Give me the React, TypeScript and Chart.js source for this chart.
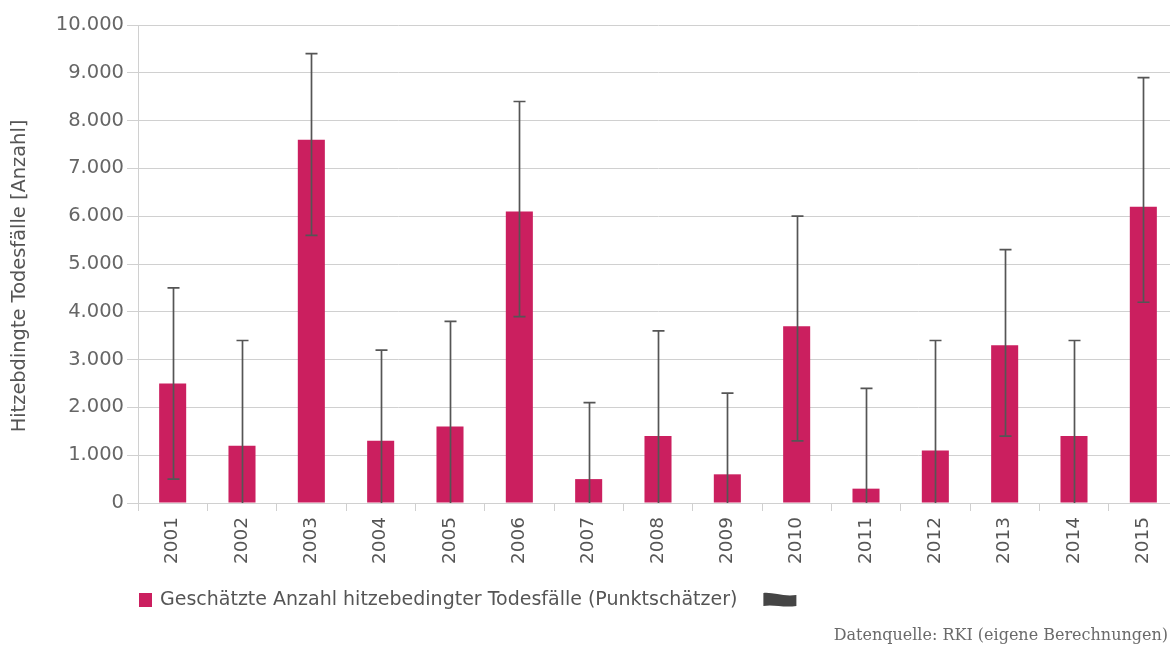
import React, { useEffect, useRef } from "react";
import { Chart, registerables } from "chart.js";

Chart.register(...registerables);

const years = ["2001", "2002", "2003", "2004", "2005", "2006", "2007", "2008", "2009", "2010", "2011", "2012", "2013", "2014", "2015"];
const estimates = [2500, 1200, 7600, 1300, 1600, 6100, 500, 1400, 600, 3700, 300, 1100, 3300, 1400, 6200];
const lowerBounds = [500, 0, 5600, 0, 0, 3900, 0, 0, 0, 1300, 0, 0, 1400, 0, 4200];
const upperBounds = [4500, 3400, 9400, 3200, 3800, 8400, 2100, 3600, 2300, 6000, 2400, 3400, 5300, 3400, 8900];
const yMin = 0;
const yMax = 10000;
const yStep = 1000;
const legendLabel = "Geschätzte Anzahl hitzebedingter Todesfälle (Punktschätzer)";
const yTitle = "Hitzebdingte Todesfälle [Anzahl]";
const sourceNote = "Datenquelle: RKI (eigene Berechnungen)";

const BAR_COLOR = "#cb1f5f";
const ERR_COLOR = "#555555";
const GRID_COLOR = "#d0d0d0";

function formatDE(v: number): string {
  const s = Math.round(v).toString();
  return s.replace(/\B(?=(\d{3})+(?!\d))/g, ".");
}

const errorBarPlugin = {
  id: "errorBars",
  afterDatasetsDraw(chart: any) {
    const ctx = chart.ctx;
    const meta = chart.getDatasetMeta(0);
    const yScale = chart.scales.y;
    ctx.save();
    ctx.strokeStyle = ERR_COLOR;
    ctx.lineWidth = 1.7;
    const cap = 6;
    meta.data.forEach((bar: any, i: number) => {
      const x = Math.round(bar.x) + 0.5;
      const yTop = yScale.getPixelForValue(upperBounds[i]);
      const yBot = yScale.getPixelForValue(lowerBounds[i]);
      ctx.beginPath();
      ctx.moveTo(x, yTop);
      ctx.lineTo(x, yBot);
      ctx.moveTo(x - cap, yTop);
      ctx.lineTo(x + cap, yTop);
      if (lowerBounds[i] > 0) {
        ctx.moveTo(x - cap, yBot);
        ctx.lineTo(x + cap, yBot);
      }
      ctx.stroke();
    });
    ctx.restore();
  },
};

const legendPlugin = {
  id: "customLegend",
  afterDraw(chart: any) {
    const ctx = chart.ctx;
    const area = chart.chartArea;
    const left = area.left;
    const cy = 600;
    ctx.save();
    // y-axis title
    ctx.save();
    ctx.translate(20, 276);
    ctx.rotate(-Math.PI / 2);
    ctx.fillStyle = "#555";
    ctx.font = '19.4px "DejaVu Sans"';
    ctx.textAlign = "center";
    ctx.textBaseline = "middle";
    ctx.fillText(yTitle, 0, 0);
    ctx.restore();
    // legend
    ctx.fillStyle = BAR_COLOR;
    ctx.fillRect(left + 1, cy - 7, 13, 14);
    ctx.fillStyle = "#555";
    ctx.font = '19px "DejaVu Sans"';
    ctx.textBaseline = "middle";
    ctx.textAlign = "left";
    ctx.fillText(legendLabel, left + 22, cy);
    const tw = ctx.measureText(legendLabel).width;
    // error-bar legend symbol (wavy flag)
    const fx = left + 22 + tw + 26;
    const fw = 33;
    ctx.fillStyle = "#454545";
    ctx.beginPath();
    ctx.moveTo(fx, cy - 7);
    ctx.bezierCurveTo(fx + fw * 0.3, cy - 8, fx + fw * 0.6, cy - 3, fx + fw, cy - 5);
    ctx.lineTo(fx + fw, cy + 6);
    ctx.bezierCurveTo(fx + fw * 0.6, cy + 8, fx + fw * 0.3, cy + 4, fx, cy + 6);
    ctx.closePath();
    ctx.fill();
    // source note
    ctx.fillStyle = "#6a6a6a";
    ctx.font = '16px "DejaVu Serif"';
    ctx.textAlign = "right";
    ctx.fillText(sourceNote, 1168, 636);
    ctx.restore();
  },
};

export default function App() {
  const canvasRef = useRef<HTMLCanvasElement | null>(null);

  useEffect(() => {
    if (!canvasRef.current) return;
    document.body.style.margin = "0";
    const chart = new Chart(canvasRef.current, {
      type: "bar",
      data: {
        labels: years,
        datasets: [
          {
            label: legendLabel,
            data: estimates,
            backgroundColor: BAR_COLOR,
            borderWidth: 0,
            barPercentage: 0.39,
            categoryPercentage: 1,
          },
        ],
      },
      options: {
        responsive: false,
        animation: false,
        devicePixelRatio: 1,
        layout: { padding: { top: 25, left: 0, right: 0, bottom: 0 } },
        plugins: {
          legend: { display: false },
          tooltip: { enabled: false },
        },
        scales: {
          x: {
            offset: true,
            grid: {
              display: true,
              drawOnChartArea: false,
              offset: true,
              tickLength: 8,
              color: GRID_COLOR,
            },
            border: { display: true, color: GRID_COLOR },
            ticks: {
              minRotation: 90,
              maxRotation: 90,
              padding: 6,
              color: "#555",
              font: { family: '"DejaVu Sans"', size: 18.5 },
            },
            afterFit(scale: any) {
              scale.height = 144;
            },
          },
          y: {
            min: yMin,
            max: yMax,
            ticks: {
              stepSize: yStep,
              padding: 3,
              color: "#666",
              font: { family: '"DejaVu Sans"', size: 19.5 },
              callback: (v: any) => formatDE(Number(v)),
            },
            grid: { color: GRID_COLOR, tickLength: 11 },
            border: { display: true, color: GRID_COLOR },
            title: { display: false },
            afterFit(scale: any) {
              scale.width = 138;
            },
          },
        },
      },
      plugins: [errorBarPlugin, legendPlugin],
    });
    return () => chart.destroy();
  }, []);

  return (
    <div style={{ position: "fixed", left: 0, top: 0, width: 1170, height: 647, overflow: "hidden", background: "#fff" }}>
      <canvas ref={canvasRef} width={1178} height={647} style={{ display: "block" }} />
    </div>
  );
}
